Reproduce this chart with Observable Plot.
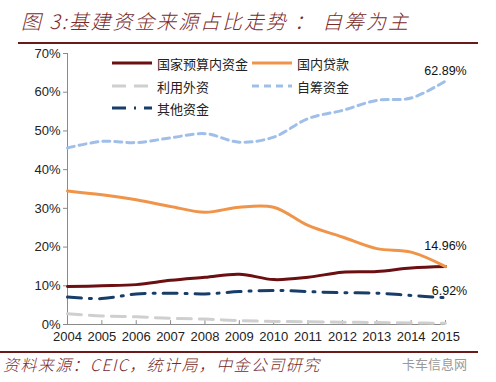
<!DOCTYPE html>
<html><head><meta charset="utf-8">
<script src="https://cdn.jsdelivr.net/npm/d3@7"></script>
<script src="https://cdn.jsdelivr.net/npm/@observablehq/plot@0.6"></script>
<style>
body{margin:0;width:496px;height:382px;overflow:hidden;background:#fff;position:relative;font-family:"Noto Sans CJK SC",sans-serif}
#title{position:absolute;left:21px;top:7px;font-size:20px;line-height:28px;font-style:italic;font-weight:300;color:#7a2a2a;white-space:nowrap;letter-spacing:1.9px}
#tline{position:absolute;left:18px;top:42px;width:460px;height:0;border-top:2px solid #6b1a1a}
#chart{position:absolute;left:0;top:40px}
#bline{position:absolute;left:0;top:351px;width:478px;height:0;border-top:2px solid #6b1a1a}
#source{position:absolute;left:3px;top:354px;font-size:16px;line-height:20px;font-style:italic;font-weight:300;color:#7a2a2a;white-space:nowrap;letter-spacing:1.4px}
#wm{position:absolute;left:402px;top:355px;font-size:13px;line-height:18px;color:#9a9a9a;white-space:nowrap}
#legend{position:absolute;left:0;top:0;font-size:13px;color:#222}
.li{position:absolute;display:flex;align-items:center;white-space:nowrap;height:18px}
.li svg{margin-right:5px}
</style></head>
<body>
<div id="title">图 3:基建资金来源占比走势 ： 自筹为主</div>
<div id="tline"></div>
<div id="chart"></div>
<div id="legend"></div>
<div id="bline"></div>
<div id="source">资料来源：CEIC，统计局，中金公司研究</div>
<div id="wm">卡车信息网</div>
<script>
const years=[2004,2005,2006,2007,2008,2009,2010,2011,2012,2013,2014,2015];
const stateBudget=[9.8,10.0,10.3,11.4,12.2,13.0,11.6,12.2,13.5,13.7,14.6,14.96];
const domesticLoans=[34.5,33.5,32.2,30.5,29.0,30.3,30.3,25.6,22.6,19.6,18.7,14.96];
const foreignCapital=[2.8,2.2,2.0,1.6,1.4,1.0,0.8,0.7,0.6,0.5,0.4,0.3];
const selfRaised=[45.6,47.3,47.0,48.2,49.3,47.1,48.4,53.2,55.3,57.9,58.5,62.89];
const otherFunds=[7.1,6.7,7.9,8.1,7.9,8.5,8.8,8.5,8.2,8.1,7.5,6.92];
const seriesNames=["国家预算内资金","国内贷款","利用外资","自筹资金","其他资金"];
const yTicks=[0,10,20,30,40,50,60,70];

const styles=[
 {stroke:"#6b0f12",dash:null},
 {stroke:"#f0944a",dash:null},
 {stroke:"#cfcfcf",dash:"14,8"},
 {stroke:"#9fbfea",dash:"7,5"},
 {stroke:"#173d68",dash:"14,8,2,8"}
];
const allValues=[stateBudget,domesticLoans,foreignCapital,selfRaised,otherFunds];
const data=[];
allValues.forEach((vals,si)=>vals.forEach((v,i)=>data.push({year:years[i],v,series:seriesNames[si]})));

const marks=[
 Plot.ruleY([0],{stroke:"#8a8a8a"}),
 Plot.ruleX([years[0]],{stroke:"#8a8a8a"}),
 Plot.ruleX(years.slice(1),{y1:0,y2:1,stroke:"#8a8a8a"}),
 Plot.axisY({ticks:yTicks,tickSize:4,tickFormat:d=>d+"%",stroke:"#8a8a8a",fill:"#222",label:null,tickPadding:3}),
 Plot.axisX({ticks:years,tickSize:0,tickFormat:d=>String(d),fill:"#222",label:null,tickPadding:7})
];
seriesNames.forEach((name,si)=>{
 marks.push(Plot.lineY(data.filter(d=>d.series===name),{x:"year",y:"v",stroke:styles[si].stroke,strokeWidth:3,strokeDasharray:styles[si].dash,curve:"catmull-rom"}));
});
const last=years.length-1;
const endLabels=[
 {year:years[last],v:selfRaised[last],dx:0,dy:-10},
 {year:years[last],v:domesticLoans[last],dx:0,dy:-21},
 {year:years[last],v:otherFunds[last],dx:4,dy:-7}
];
endLabels.forEach(l=>marks.push(Plot.text([l],{x:"year",y:"v",text:d=>d.v.toFixed(2)+"%",dx:l.dx,dy:l.dy,fill:"#111",fontSize:12.5})));

const chart=Plot.plot({
 width:496,height:308,
 marginLeft:67,marginRight:51,marginTop:13,marginBottom:24,
 x:{type:"linear",domain:[years[0],years[last]]},
 y:{type:"linear",domain:[0,70]},
 style:{fontFamily:"'Liberation Sans',Arial,sans-serif",fontSize:"13px",background:"transparent"},
 marks
});
document.getElementById("chart").append(chart);

// legend
const legPos=[[112,54],[252,54],[112,77],[252,77],[112,99]];
const leg=document.getElementById("legend");
seriesNames.forEach((name,si)=>{
 const d=document.createElement("div");d.className="li";
 d.style.left=legPos[si][0]+"px";d.style.top=legPos[si][1]+"px";
 const s=styles[si];
 d.innerHTML=`<svg width="40" height="6"><line x1="0" y1="3" x2="40" y2="3" stroke="${s.stroke}" stroke-width="3" ${s.dash?`stroke-dasharray="${s.dash}"`:""}/></svg><span>${name}</span>`;
 leg.append(d);
});
</script>
</body></html>
